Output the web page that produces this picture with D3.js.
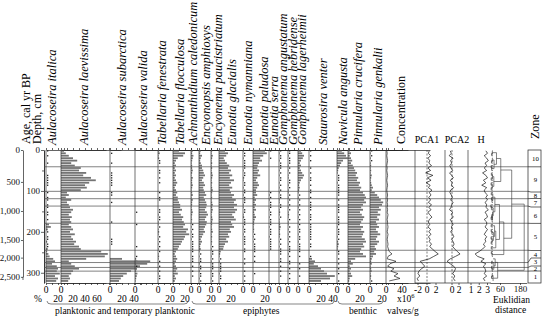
<!DOCTYPE html>
<html>
<head>
<meta charset="utf-8">
<script src="https://cdn.jsdelivr.net/npm/d3@7"></script>
<style>
body { margin: 0; background: #fff; }
svg { display: block; font-family: "Liberation Serif", "Times New Roman", serif; }
</style>
</head>
<body>
<svg id="chart" width="550" height="321"></svg>
<script>
// sample depths (cm)
var depths = [2,8,14,20,26,32,38,44,50,56,62,68,74,80,86,92,98,104,110,116,122,128,134,140,146,152,158,164,170,176,
  182,188,194,200,206,212,218,224,230,236,242,248,254,260,266,272,278,284,290,296,302,308,314,320];

// age-depth model
var ageTicks = [0, 500, 1000, 1500, 2000, 2500];
var ageDepths = [0, 78, 149, 220, 263, 310];

// zone boundaries (depth, cm) and zone names top to bottom
var zoneBounds = [0, 41, 101, 119, 137, 179, 245, 275, 287, 296, 325];
var zoneNames = ['10', '9', '8', '7', '6', '5', '4', '3', '2', '1'];

// diatom percentages
var italica = [0.5,0,0.5,0,0,0.5,0, 0,0,0,0.5,0.5,0.5,0.5,0.5,0,0, 0.5,0,0.5, 0.5,0,0.5, 0.5,0,0.5,0.5,0,0.5,0, 5,8,3,0.5,0,0.5,0.5,2,0.5,0.5,3, 2,4,6,12, 15,10,18, 20, 18,23,15,20,17];
var laevissima = [5,8,13,20,27,17,23, 33,30,42,37,50,58,47,40,43,33, 10,13,8, 17,10,13, 15,20,17,13,18,15,17, 13,17,20,15,23,17,20,25,22,30,33, 67,78,73,42, 13,17,23, 30, 20,17,13,15,12];
var subarctica = [0,0.5,0,0,0,0.5,0, 0,0,0.5,0.5,0.5,0.5,0.5,0.5,0,0, 0.5,0.5,0, 0,0.5,0, 0,0,0,0,0,0,0.5, 0,0,0,0,0,0,0.5,0.5,0.5,0,0, 0,0,0,20, 67,62,50, 45, 35,28,22,18,15];
var valida = [0,0,0,0,0,0,0, 0,0,0,0,0,0,0,0,0,0, 0,0,0, 0,0,0, 0,0,0.5,0,0,0,0, 0.5,0,0,0,0,0,0,0,0,0.5,0, 0,0,0.5,2, 4,2,0.5, 3, 2,4,3,2,1];
var fenestrata = [2,3,1,2,0.5,0.5,0, 0,0.5,0.5,0,0.5,0,0.5,0,0,0, 0.5,0,0.5, 0.5,0,0, 0,0.5,0.5,1,0.5,0.5,1, 1,0.5,1,2,1,0.5,1,0.5,1,0.5,1, 0.5,1,2,1, 0.5,1,0.5, 1, 0.5,1,0.5,0.5,0];
var flocculosa = [10,20,17,8,5,3,5, 3,5,3,5,3,5,7,5,3,5, 7,5,8, 8,10,12, 12,15,10,13,17,15,18, 20,17,25,22,27,20,18,15,13,10,8, 5,3,5,7, 5,3,5, 7, 5,8,3,5,3];
var caledonicum = [3,2,4,3,2,1,2, 2,3,2,1,3,2,2,3,2,1, 2,3,1, 3,2,2, 1,2,3,2,1,2,1, 0.5,1,0.5,1,0.5,0.5,1,0.5,0.5,0.5,0.5, 0.5,0,0.5,0.5, 0.5,0,0.5, 0, 0.5,0,0.5,0,0];
var amphioxys = [3,2,5,3,2,3,5, 5,7,8,10,7,5,8,10,7,8, 10,12,8, 10,12,13, 12,10,13,15,12,10,13, 12,10,8,10,7,5,3,5,3,2,3, 1,0.5,1,0.5, 0.5,1,0.5, 0.5, 1,0.5,0.5,1,0.5];
var paucistriatum = [2,1,3,2,1,2,1, 2,1,2,3,2,1,2,1,2,3, 2,1,2, 1,2,3, 2,3,2,1,2,3,2, 2,1,2,3,1,2,1,2,1,0.5,1, 0.5,0.5,1,0.5, 1,0.5,0.5, 0.5, 1,0.5,0.5,1,0.5];
var glacialis = [10,15,12,8,10,13,17, 15,20,17,22,18,25,20,17,22,18, 20,25,22, 28,25,30, 25,30,27,22,25,28,20, 22,25,18,20,15,17,12,15,10,8,7, 3,2,1,0.5, 1,0.5,0.5, 0.5, 0.5,1,0.5,0.5,0];
var nymanniana = [1,0.5,0.5,1,0.5,0.5,0.5, 0.5,1,0.5,0.5,2,1,0.5,0.5,1,0.5, 0.5,1,0.5, 0.5,0.5,1, 1,0.5,0.5,1,2,0.5,0.5, 0.5,1,0.5,0.5,1,0.5,0.5,0.5,0.5,0,0.5, 0.5,0,0,0.5, 0,0.5,0, 0, 0.5,0,0.5,0,0.5];
var paludosa = [20,23,17,12,15,10,8, 7,10,8,12,7,5,8,10,7,5, 5,7,3, 5,3,5, 3,5,2,3,5,3,2, 2,1,2,1,0.5,1,0.5,1,0.5,0.5,0.5, 0.5,0,0.5,0, 0.5,0,0, 0, 0,0.5,0,0,0];
var serra = [0.5,0,0,0.5,0,0,0, 0,0,0,0,0,0,0,0,0,0, 0.5,1,0.5, 1,0.5,0.5, 0.5,1,0.5,0.5,1,0.5,0.5, 0.5,1,0.5,0.5,0.5,1,0.5,0.5,0.5,0.5,0.5, 0,0,0,0, 0,0,0, 0, 0,0,0,0,0];
var angustatum = [0.5,1,0.5,0.5,1,0.5,0.5, 0.5,1,0.5,1,0.5,0.5,1,0.5,1,0.5, 1,0.5,0.5, 1,1,0.5, 0.5,1,2,1,0.5,1,1, 2,3,2,1,2,1,0.5,1,0.5,1,0.5, 0.5,0.5,0,0.5, 0.5,0,0.5, 0, 0.5,0,0.5,0,0];
var hebridense = [0.5,0.5,1,0.5,0.5,0.5,1, 0.5,1,0.5,1,1,0.5,0.5,1,0.5,1, 1,0.5,1, 0.5,1,0.5, 1,0.5,1,2,1,0.5,1, 1,0.5,1,0.5,1,0.5,1,0.5,1,0.5,0.5, 0.5,1,0.5,0, 0.5,0.5,0, 0.5, 0,0.5,0,0.5,0];
var lagerheimii = [5,7,10,8,5,3,5, 3,5,7,10,8,5,3,2,3,2, 1,0.5,1, 0.5,1,0.5, 1,0.5,1,0.5,1,0.5,1, 0.5,1,0.5,0.5,1,0.5,0.5,1,0.5,0.5,0.5, 0.5,0,0.5,0, 0,0.5,0, 0.5, 0,0,0.5,0,0];
var venter = [0.5,0,0.5,0,0.5,0,0, 0.5,0,0.5,0,0.5,0.5,0,0.5,0,0.5, 0.5,0,0.5, 0,0.5,0.5, 0.5,0.5,0,0.5,0.5,0.5,0, 0.5,0.5,0.5,0.5,0.5,0.5,0.5,0,0.5,0.5,0, 0,0,0.5,5, 10,8,15, 20, 25,30,43,35,20];
var angusta = [8,12,15,18,10,7,5, 3,2,1,0.5,0.5,0.5,1,0.5,0.5,0.5, 0.5,0.5,0, 0.5,0,0.5, 0.5,0.5,0.5,0,0.5,0.5,0.5, 0.5,1,0.5,0.5,0.5,1,0.5,2,3,2,1, 0.5,0.5,0,0.5, 0,0.5,0, 0.5, 0,0.5,0,0,0.5];
var crucifera = [3,5,3,5,7,5,8, 10,12,15,13,17,15,20,18,22,20, 25,28,30, 27,30,25, 22,25,20,23,27,25,22, 20,25,22,27,25,23,28,30,25,27,22, 20,25,30,12, 5,8,3, 5, 3,5,7,3,2];
var genkalii = [0.5,1,0.5,1,0.5,1,2, 1,2,1,3,2,1,2,3,5,3, 8,12,15, 18,22,20, 15,18,13,17,12,15,10, 12,15,10,13,17,12,10,15,12,8,10, 7,10,5,3, 2,3,1, 2, 3,1,2,1,0.5];

// concentration, x10^6 valves/g
var concentration = [2,3,2,3,4,3,2, 3,2,3,4,3,2,3,4,3,2, 3,4,3, 4,3,4, 3,4,3,5,4,3,4, 4,5,4,3,5,4,3,4,5,4,6, 8,15,5,3, 25,10,4, 20, 12,30,20,35,8];
// ordination scores and diversity
var pca1 = [0.5,0.3,0.8,0.2,0.6,0.4,1.0, 0.2,0.8,-0.3,1.3,0.1,0.9,-0.2,0.7,0.3,1.1, 0.5,0.9,0.4, 0.8,0.3,1.0, 0.4,0.9,0.2,0.6,1.1,0.5,0.3, 0.6,0.2,0.8,0.4,0.9,0.3,0.7,0.5,1.0,0.6,1.2, 1.8,2.5,1.5,0.5, -1.5,-1.0,-0.5, -1.2, -1.8,-2.0,-1.6,-2.2,-1.9];
var pca2 = [-0.5,-0.2,-0.8,0.3,-0.4,-0.1,-0.6, -0.3,0.2,-0.7,-0.1,0.4,-0.5,0.1,-0.2,0.5,-0.4, -0.6,-0.2,0.1, -0.4,0.3,-0.1, -0.3,-0.7,0.2,-0.2,0.4,-0.5,-0.1, 0.3,-0.2,0.1,-0.4,0.2,0.5,-0.1,0.3,0.6,0.2,0.8, 1.5,2.3,1.0,-0.5, -1.4,-0.5,0.5, 1.0, 0.7,0.2,0.8,0.4,0.9];
var shannonH = [2.8,3.0,2.6,2.9,3.1,2.7,2.9, 2.6,2.9,2.4,2.8,3.0,2.5,2.8,2.3,2.9,2.6, 2.7,3.0,2.8, 3.0,2.7,2.9, 2.8,3.1,2.7,2.9,3.0,2.6,2.9, 2.9,2.7,3.0,2.8,2.6,2.9,2.7,2.8,2.5,2.7,2.4, 2.0,1.5,1.8,2.6, 2.2,2.8,2.5, 2.7, 2.8,2.6,2.9,2.5,2.7];

var taxaNames = ['Aulacoseira italica', 'Aulacoseira laevissima', 'Aulacoseira subarctica', 'Aulacoseira valida',
  'Tabellaria fenestrata', 'Tabellaria flocculosa', 'Achnanthidium caledonicum', 'Encyonopsis amphioxys',
  'Encyonema paucistriatum', 'Eunotia glacialis', 'Eunotia nymanniana', 'Eunotia paludosa', 'Eunotia serra',
  'Gomphonema angustatum', 'Gomphonema hebridense', 'Gomphonema lagerheimii', 'Staurosira venter',
  'Navicula angusta', 'Pinnularia crucifera', 'Pinnularia genkalii'];
var taxaValues = [italica, laevissima, subarctica, valida, fenestrata, flocculosa, caledonicum, amphioxys,
  paucistriatum, glacialis, nymanniana, paludosa, serra, angustatum, hebridense, lagerheimii, venter,
  angusta, crucifera, genkalii];
// labelled % ticks under each panel (besides 0)
var tickLabels = [[20], [20, 40, 60], [20, 40], [], [20], [20], [], [20], [], [20], [], [20], [], [], [], [],
  [20, 40], [], [20], [20]];

var groups = [
  {name: 'planktonic and temporary planktonic', from: 0, to: 5},
  {name: 'epiphytes', from: 6, to: 16},
  {name: 'benthic', from: 17, to: 19}
];

// layout (pixels)
var zeroX = [46, 61, 110, 135, 158, 173, 191, 199, 211, 219, 243, 253, 269, 279, 288, 298, 309, 337, 348, 370];
var titleX = [56, 88, 126, 147, 166, 184, 197, 210, 222, 236, 252, 268, 278, 287, 297, 306, 327, 347, 362, 382];
var zoneCells = [150, 166.8, 192, 198.5, 207, 223.4, 250.5, 258, 266, 271, 283];
var pxPerPct = 0.6;
var topY = 150, botY = 283;

var svg = d3.select('#chart');
var y = d3.scaleLinear().domain([0, 325]).range([topY, botY]);
var lineCol = '#4a4a4a';

function fixAxis(g) {
  g.attr('font-family', null).attr('font-size', 9);
  g.selectAll('path,line').attr('stroke', '#222').attr('stroke-width', 0.7);
  g.selectAll('text').attr('fill', '#111');
}

// ---- age and depth axes
var ageY = d3.scaleLinear().domain(ageTicks).range(ageDepths.map(y));
svg.append('g').attr('transform', 'translate(23,0)')
  .call(d3.axisLeft(ageY).tickValues(ageTicks).tickSize(2).tickSizeOuter(0).tickPadding(1))
  .call(fixAxis);
svg.append('line').attr('x1', 23).attr('x2', 23).attr('y1', ageY(2500)).attr('y2', botY - 3)
  .attr('stroke', '#222').attr('stroke-width', 0.7);

svg.append('g').attr('transform', 'translate(44,0)')
  .call(d3.axisLeft(y).tickValues([0, 100, 200, 300]).tickSize(3).tickSizeOuter(0).tickPadding(1))
  .call(fixAxis);
svg.append('g').attr('transform', 'translate(44,0)')
  .call(d3.axisLeft(y).tickValues([50, 150, 250]).tickSize(2).tickSizeOuter(0).tickFormat(''))
  .call(fixAxis);

svg.append('text').attr('transform', 'translate(30,144) rotate(-90)').attr('font-size', 12).text('Age, cal yr BP');
svg.append('text').attr('transform', 'translate(41,144) rotate(-90)').attr('font-size', 12).text('Depth, cm');

// ---- zone lines across the diagram
svg.append('g').selectAll('line').data(zoneBounds.slice(1, -1)).enter().append('line')
  .attr('x1', 44).attr('x2', 528).attr('y1', function(d){ return y(d); }).attr('y2', function(d){ return y(d); })
  .attr('stroke', lineCol).attr('stroke-width', 0.7);

// ---- taxa panels
taxaNames.forEach(function(name, k) {
  var vals = taxaValues[k];
  var maxV = d3.max(vals);
  var ext = Math.max(10, Math.ceil(maxV / 10) * 10, d3.max(tickLabels[k].concat([0])));
  var x = d3.scaleLinear().domain([0, 100]).range([zeroX[k], zeroX[k] + 100 * pxPerPct]);
  var g = svg.append('g');
  var rows = depths.map(function(d, i){ return {d: d, v: vals[i]}; });

  g.selectAll('rect').data(rows.filter(function(r){ return r.v >= 1; })).enter().append('rect')
    .attr('x', x(0)).attr('y', function(r){ return y(r.d) - 0.9; })
    .attr('width', function(r){ return x(r.v) - x(0); }).attr('height', 1.8)
    .attr('fill', '#747474');
  g.selectAll('.dot').data(rows.filter(function(r){ return r.v > 0 && r.v < 1; })).enter().append('rect')
    .attr('class', 'dot')
    .attr('x', x(0) + 1).attr('y', function(r){ return y(r.d) - 0.6; })
    .attr('width', 1.3).attr('height', 1.3).attr('fill', '#222');

  g.append('line').attr('x1', x(0)).attr('x2', x(0)).attr('y1', topY).attr('y2', botY)
    .attr('stroke', '#333').attr('stroke-width', 0.7);

  var ticks = d3.range(0, ext + 1, 10);
  g.append('g').attr('transform', 'translate(0,' + botY + ')')
    .call(d3.axisBottom(x).tickValues(ticks).tickSize(2).tickSizeOuter(0).tickFormat(''))
    .call(fixAxis);
  g.append('g').attr('transform', 'translate(0,' + topY + ')')
    .call(d3.axisTop(x).tickValues(ticks).tickSize(2).tickSizeOuter(0).tickFormat(''))
    .call(fixAxis);

  g.append('text').attr('x', x(0)).attr('y', 293).attr('text-anchor', 'middle').attr('font-size', 9.5).text('0');
  g.selectAll('.lab').data(tickLabels[k]).enter().append('text')
    .attr('x', function(t){ return x(t); }).attr('y', 302).attr('text-anchor', 'middle').attr('font-size', 9.5)
    .text(function(t){ return t; });

  svg.append('text').attr('transform', 'translate(' + titleX[k] + ',145) rotate(-90)')
    .attr('font-size', 12.5).attr('font-style', 'italic').text(name);
});
svg.append('text').attr('x', 42).attr('y', 302).attr('text-anchor', 'end').attr('font-size', 9.5).text('%');

// ---- ecological group brackets
groups.forEach(function(gr) {
  var x1 = zeroX[gr.from] + 1, x2 = (gr.to + 1 < zeroX.length ? zeroX[gr.to + 1] : 386) - 3;
  svg.append('path').attr('d', 'M' + x1 + ',301 Q' + x1 + ',304 ' + (x1 + 4) + ',304 L' + (x2 - 4) + ',304 Q' + x2 + ',304 ' + x2 + ',301')
    .attr('fill', 'none').attr('stroke', '#333').attr('stroke-width', 0.6);
});
svg.append('text').attr('x', 55).attr('y', 314).attr('font-size', 9.5).text(groups[0].name);
svg.append('text').attr('x', 243).attr('y', 314).attr('font-size', 9.5).text(groups[1].name);
svg.append('text').attr('x', 349).attr('y', 314).attr('font-size', 9.5).text(groups[2].name);

// ---- concentration
var xc = d3.scaleLinear().domain([0, 40]).range([386, 402]);
svg.append('path').datum(depths.map(function(d, i){ return [concentration[i], d]; }))
  .attr('d', d3.line().x(function(p){ return xc(p[0]); }).y(function(p){ return y(p[1]); }))
  .attr('fill', 'none').attr('stroke', '#222').attr('stroke-width', 0.7);
svg.append('line').attr('x1', xc(0)).attr('x2', xc(0)).attr('y1', topY).attr('y2', botY).attr('stroke', '#333').attr('stroke-width', 0.7);
svg.append('g').attr('transform', 'translate(0,' + botY + ')')
  .call(d3.axisBottom(xc).tickValues([0, 20, 40]).tickSize(2).tickSizeOuter(0).tickFormat('')).call(fixAxis);
svg.append('g').attr('transform', 'translate(0,' + topY + ')')
  .call(d3.axisTop(xc).tickValues([0, 20, 40]).tickSize(2).tickSizeOuter(0).tickFormat('')).call(fixAxis);
svg.append('text').attr('x', xc(0)).attr('y', 293).attr('text-anchor', 'middle').attr('font-size', 9.5).text('0');
svg.append('text').attr('x', xc(40)).attr('y', 293).attr('text-anchor', 'middle').attr('font-size', 9.5).text('40');
var x6 = svg.append('text').attr('x', 397).attr('y', 302).attr('font-size', 9.5).text('x10');
x6.append('tspan').attr('dy', -4).attr('font-size', 6.5).text('6');
svg.append('text').attr('x', 387).attr('y', 314).attr('font-size', 9.5).text('valves/g');
svg.append('text').attr('transform', 'translate(405,144) rotate(-90)').attr('font-size', 12).text('Concentration');

// ---- PCA1, PCA2, H
var curves = [
  {label: 'PCA1', vals: pca1, left: 415, right: 445, domain: [-2, 2], range: [418, 436], ticks: [-2, 0, 2], dashed: true, lx: 427},
  {label: 'PCA2', vals: pca2, left: 445, right: 468, domain: [0, 2], range: [452, 459], ticks: [0, 2], dashed: true, lx: 457},
  {label: 'H', vals: shannonH, left: 468, right: 491, domain: [1, 3], range: [471, 487.5], ticks: [1, 2, 3], dashed: false, lx: 481}
];
curves.forEach(function(c) {
  var xs = d3.scaleLinear().domain(c.domain).range(c.range);
  svg.append('line').attr('x1', c.left).attr('x2', c.left).attr('y1', topY).attr('y2', botY).attr('stroke', '#333').attr('stroke-width', 0.7);
  if (c.dashed) {
    svg.append('line').attr('x1', xs(0)).attr('x2', xs(0)).attr('y1', topY).attr('y2', botY)
      .attr('stroke', '#444').attr('stroke-width', 0.7).attr('stroke-dasharray', '2,1.5');
  }
  svg.append('path').datum(depths.map(function(d, i){ return [c.vals[i], d]; }))
    .attr('d', d3.line().x(function(p){ return xs(p[0]); }).y(function(p){ return y(p[1]); }))
    .attr('fill', 'none').attr('stroke', '#111').attr('stroke-width', 0.7);
  svg.append('line').attr('x1', c.left).attr('x2', c.right).attr('y1', botY).attr('y2', botY).attr('stroke', '#222').attr('stroke-width', 0.7);
  svg.selectAll(null).data(c.ticks).enter().append('line')
    .attr('x1', function(t){ return xs(t); }).attr('x2', function(t){ return xs(t); })
    .attr('y1', botY).attr('y2', botY + 2).attr('stroke', '#222').attr('stroke-width', 0.7);
  svg.selectAll(null).data(c.ticks).enter().append('text')
    .attr('x', function(t){ return xs(t); }).attr('y', 293).attr('text-anchor', 'middle').attr('font-size', 9.5)
    .text(function(t){ return t < 0 ? '-' + (-t) : t; });
  svg.append('text').attr('x', c.lx).attr('y', 143).attr('text-anchor', 'middle').attr('font-size', 10).text(c.label);
});

// ---- constrained clustering (Euclidean distance on sqrt percentages)
var nodes = depths.map(function(d, i) {
  return {n: 1, mean: taxaValues.map(function(v){ return Math.sqrt(v[i]); }), ss: 0, h: 0, y: y(d), kids: null};
});
var merged = [];
while (nodes.length > 1) {
  var best = 0, bestInc = Infinity;
  for (var i = 0; i < nodes.length - 1; i++) {
    var a = nodes[i], b = nodes[i + 1];
    var d2 = d3.sum(a.mean, function(m, j){ return (m - b.mean[j]) * (m - b.mean[j]); });
    var inc = a.n * b.n / (a.n + b.n) * d2;
    if (inc < bestInc) { bestInc = inc; best = i; }
  }
  var A = nodes[best], B = nodes[best + 1], n = A.n + B.n;
  var m = {n: n, mean: A.mean.map(function(v, j){ return (v * A.n + B.mean[j] * B.n) / n; }),
    ss: A.ss + B.ss + bestInc, y: (A.y + B.y) / 2, kids: [A, B]};
  m.h = Math.sqrt(m.ss);
  merged.push(m);
  nodes.splice(best, 2, m);
}
var root = nodes[0];
var xd = d3.scaleLinear().domain([0, root.h * 220 / 205]).range([490, 526.7]);
var dg = svg.append('g').attr('stroke', '#333').attr('stroke-width', 0.6).attr('fill', 'none');
merged.forEach(function(m) {
  dg.append('line').attr('x1', xd(m.h)).attr('x2', xd(m.h)).attr('y1', m.kids[0].y).attr('y2', m.kids[1].y);
  m.kids.forEach(function(k) {
    dg.append('line').attr('x1', xd(k.h) + (k.kids ? 0 : 3)).attr('x2', xd(m.h)).attr('y1', k.y).attr('y2', k.y);
  });
});
var xdAxis = d3.scaleLinear().domain([0, 220]).range([490, 526.7]);
svg.append('g').attr('transform', 'translate(0,' + botY + ')')
  .call(d3.axisBottom(xdAxis).tickValues([60, 180]).tickSize(2).tickSizeOuter(0).tickPadding(1)).call(fixAxis);
svg.append('text').attr('x', 493).attr('y', 303).attr('font-size', 9.5).text('Euklidian');
svg.append('text').attr('x', 495).attr('y', 313).attr('font-size', 9.5).text('distance');

// ---- zone column
var zg = svg.append('g');
zg.append('rect').attr('x', 528).attr('y', topY).attr('width', 13).attr('height', botY - topY)
  .attr('fill', 'none').attr('stroke', '#222').attr('stroke-width', 0.7);
zg.selectAll('path').data(zoneBounds.slice(1, -1)).enter().append('path')
  .attr('d', function(d, i){ return 'M528,' + y(d) + 'L531,' + zoneCells[i + 1] + 'L541,' + zoneCells[i + 1]; })
  .attr('fill', 'none').attr('stroke', '#222').attr('stroke-width', 0.7);
zg.selectAll('text').data(zoneNames).enter().append('text')
  .attr('x', 535.5).attr('y', function(z, i){ return (zoneCells[i] + zoneCells[i + 1]) / 2 + 2.3; })
  .attr('text-anchor', 'middle').attr('font-size', 6.8).text(function(z){ return z; });
svg.append('text').attr('transform', 'translate(539,139) rotate(-90)').attr('font-size', 12).text('Zone');
</script>
</body>
</html>
